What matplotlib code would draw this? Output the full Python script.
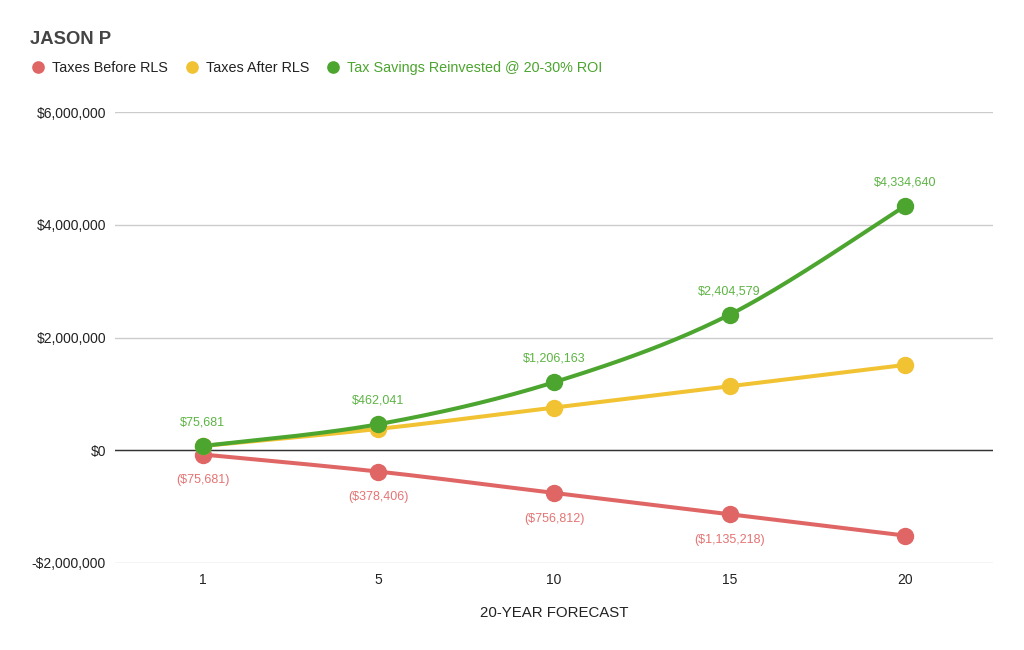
import matplotlib
matplotlib.use('Agg')
import matplotlib.pyplot as plt
import numpy as np
from matplotlib.lines import Line2D
from matplotlib.ticker import FuncFormatter

plt.rcParams['font.family'] = ['Liberation Sans', 'DejaVu Sans']

# ---- data ----
years = ['1', '5', '10', '15', '20']
taxes_before = [-75681, -378406, -756812, -1135218, -1513624]
taxes_after = [75681, 378406, 756812, 1135218, 1513624]
reinvested = [75681, 462041, 1206163, 2404579, 4334640]
series_names = ['Taxes Before RLS', 'Taxes After RLS', 'Tax Savings Reinvested @ 20-30% ROI']
y_ticks = [-2000000, 0, 2000000, 4000000, 6000000]
before_labelled = [True, True, True, True, False]
reinvested_labelled = [True, True, True, True, True]

RED = '#e06666'
YELLOW = '#f1c232'
GREEN = '#4ca52f'
RED_TXT = '#e57373'
GREEN_TXT = '#5cb443'


def smooth(xs, ys, n=40, t=1 / 6):
    pts = np.column_stack([xs, ys]).astype(float)
    m = len(pts)
    out = []
    s = np.linspace(0, 1, n)[:, None]
    for i in range(m - 1):
        p0 = pts[max(i - 1, 0)]
        p1 = pts[i]
        p2 = pts[i + 1]
        p3 = pts[min(i + 2, m - 1)]
        c1 = p1 + (p2 - p0) * t
        c2 = p2 - (p3 - p1) * t
        seg = ((1 - s) ** 3) * p1 + 3 * ((1 - s) ** 2) * s * c1 + 3 * (1 - s) * s ** 2 * c2 + s ** 3 * p2
        out.append(seg if i == 0 else seg[1:])
    arr = np.vstack(out)
    return arr[:, 0], arr[:, 1]


fig = plt.figure(figsize=(10.24, 6.5), dpi=100)
ax = fig.add_axes([115 / 1024, (650 - 563) / 650, (993 - 115) / 1024, (563 - 112) / 650])

x = np.arange(len(years))

for vals, col in [(taxes_before, RED), (taxes_after, YELLOW), (reinvested, GREEN)]:
    sx, sy = smooth(x, vals)
    ax.plot(sx, sy, color=col, lw=2.9, solid_capstyle='round', zorder=3)
    ax.plot(x, vals, 'o', color=col, markersize=11.5, zorder=4)


def money(v):
    if v < 0:
        return '(${:,.0f})'.format(-v)
    return '${:,.0f}'.format(v)


for xi, v, show in zip(x, reinvested, reinvested_labelled):
    if show:
        ax.annotate(money(v), (xi, v), xytext=(0, 17), textcoords='offset points',
                    ha='center', va='center', fontsize=9, color=GREEN_TXT, zorder=2.5,
                    arrowprops=dict(arrowstyle='-', color='#e8e8e8', lw=1, shrinkA=6, shrinkB=8))
for xi, v, show in zip(x, taxes_before, before_labelled):
    if show:
        ax.annotate(money(v), (xi, v), xytext=(0, -18.5), textcoords='offset points',
                    ha='center', va='center', fontsize=9, color=RED_TXT, zorder=2.5,
                    arrowprops=dict(arrowstyle='-', color='#e8e8e8', lw=1, shrinkA=6, shrinkB=8))

ax.set_xlim(-0.5, len(years) - 0.5)
ax.set_ylim(y_ticks[0], y_ticks[-1])
ax.set_xticks(x)
ax.set_xticklabels(years)
ax.set_yticks(y_ticks)


def yfmt(v, pos):
    if v < 0:
        return '-${:,.0f}'.format(-v)
    return '${:,.0f}'.format(v)


ax.yaxis.set_major_formatter(FuncFormatter(yfmt))
ax.tick_params(axis='both', length=0, labelsize=10, colors='#222222')
ax.tick_params(axis='x', pad=7)
ax.tick_params(axis='y', pad=6.5)
for sp in ax.spines.values():
    sp.set_visible(False)
ax.grid(axis='y', color='#cccccc', lw=1, zorder=0)
ax.set_axisbelow(True)
ax.axhline(0, color='#333333', lw=1, zorder=2)
ax.set_xlabel('20-YEAR FORECAST', fontsize=10.8, color='#222222', labelpad=14)

fig.text(30.5 / 1024, 1 - 39.5 / 650, 'JASON P', fontsize=13.3, fontweight='bold', color='#444444',
         ha='left', va='center')

handles = [Line2D([], [], marker='o', linestyle='none', color=c, markersize=8.1)
           for c in (RED, YELLOW, GREEN)]
leg = fig.legend(handles, series_names, loc='center left', bbox_to_anchor=(32.4 / 1024, 1 - 68.3 / 650),
                 ncol=3, frameon=False, fontsize=10.4, handletextpad=0.56, columnspacing=1.25,
                 borderpad=0, handlelength=0.8, borderaxespad=0)
for txt, c in zip(leg.get_texts(), ['#222222', '#222222', GREEN]):
    txt.set_color(c)

fig.savefig('out.png', dpi=100, facecolor='white')
